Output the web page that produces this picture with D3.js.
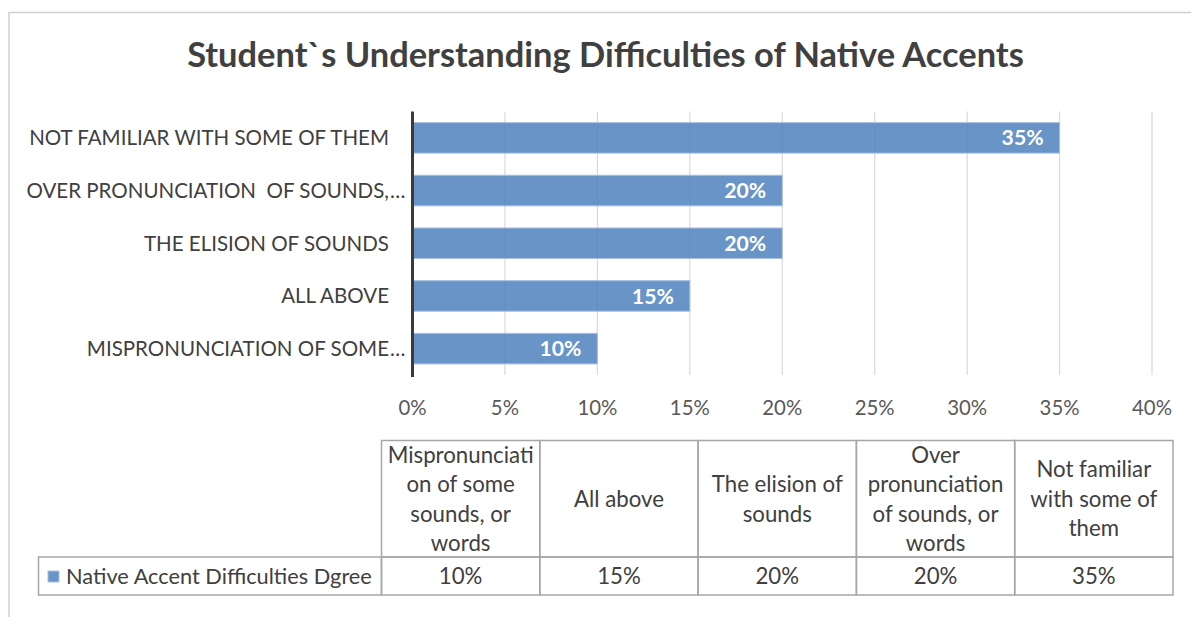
<!DOCTYPE html>
<html>
<head>
<meta charset="utf-8">
<script src="https://cdn.jsdelivr.net/npm/d3@7"></script>
<style>
  html, body { margin: 0; padding: 0; background: #fff; }
  svg { display: block; }
  text { font-family: Lato, "Open Sans", sans-serif; }
</style>
</head>
<body>
<svg id="chart" width="1191" height="617"></svg>
<script>
// Survey categories, listed bottom-to-top on the bar axis (left-to-right in the data table)
const categories = [
  "Mispronunciation of some sounds, or words",
  "All above",
  "The elision of sounds",
  "Over pronunciation of sounds, or words",
  "Not familiar with some of them"
];
// Category axis labels as they appear beside the bars
const axisLabels = [
  "MISPRONUNCIATION OF SOME…",
  "ALL ABOVE",
  "THE ELISION OF SOUNDS",
  "OVER PRONUNCIATION  OF SOUNDS,…",
  "NOT FAMILIAR WITH SOME OF THEM"
];
// Wrapped header text for the data table
const tableHeaders = [
  ["Mispronunciati", "on of some", "sounds, or", "words"],
  ["All above"],
  ["The elision of", "sounds"],
  ["Over", "pronunciation", "of sounds, or", "words"],
  ["Not familiar", "with some of", "them"]
];
// Share of students (percent)
const values = [10, 15, 20, 20, 35];
const seriesName = "Native Accent Difficulties Dgree";
const titleText = "Student`s Understanding Difficulties of Native Accents";
const xTicks = [0, 5, 10, 15, 20, 25, 30, 35, 40];

const svg = d3.select("#chart");
const barColor = "#4f81bd";
const textColor = "#404040";

// Pick a font size so that a sample string spans the given width
function fitSize(str, weight, target) {
  const t = svg.append("text").attr("font-size", 100).attr("font-weight", weight).text(str);
  const w = t.node().getComputedTextLength();
  t.remove();
  return 100 * target / w;
}

// Outer chart frame
svg.append("rect")
  .attr("x", 9).attr("y", 12.5)
  .attr("width", 1400).attr("height", 800)
  .attr("fill", "none").attr("stroke", "#d0d0d0").attr("stroke-width", 1.5);

// Title
svg.append("text")
  .attr("x", 605.5).attr("y", 67)
  .attr("text-anchor", "middle")
  .attr("font-weight", 700)
  .attr("font-size", fitSize(titleText, 700, 837))
  .attr("fill", textColor)
  .text(titleText);

// Scales
const plot = { left: 412.5, right: 1152, top: 111.5, bottom: 375 };
const x = d3.scaleLinear().domain([0, 40]).range([plot.left, plot.right]);
const y = d3.scaleBand()
  .domain(categories.slice().reverse())
  .range([plot.top, plot.bottom])
  .paddingInner(0.42).paddingOuter(0.21);

const labelSize = fitSize("NOT FAMILIAR WITH SOME OF THEM", 400, 360);

// Vertical gridlines
svg.append("g")
  .selectAll("line")
  .data(xTicks.filter(d => d > 0))
  .join("line")
  .attr("x1", d => x(d)).attr("x2", d => x(d))
  .attr("y1", plot.top).attr("y2", plot.bottom)
  .attr("stroke", "#d9d9d9").attr("stroke-width", 1.2);

// Bars
svg.append("g")
  .selectAll("rect")
  .data(categories)
  .join("rect")
  .attr("x", x(0))
  .attr("y", d => y(d))
  .attr("width", (d, i) => x(values[i]) - x(0))
  .attr("height", y.bandwidth())
  .attr("fill", barColor)
  .attr("fill-opacity", 0.85)
  .attr("stroke", "#a9c1e0")
  .attr("stroke-width", 1);

// Value labels inside the bar ends
const valueSize = fitSize("35%", 700, 42);
svg.append("g")
  .selectAll("text")
  .data(categories)
  .join("text")
  .attr("x", (d, i) => x(values[i]) - 16)
  .attr("y", d => y(d) + y.bandwidth() / 2)
  .attr("dy", "0.36em")
  .attr("text-anchor", "end")
  .attr("font-weight", 700)
  .attr("font-size", valueSize)
  .attr("fill", "#fff")
  .text((d, i) => values[i] + "%");

// Category axis line
svg.append("line")
  .attr("x1", plot.left).attr("x2", plot.left)
  .attr("y1", plot.top).attr("y2", plot.bottom + 2)
  .attr("stroke", "#3a3a3a").attr("stroke-width", 3);

// Category labels (ellipsis hangs past the right edge)
const catG = svg.append("g");
categories.forEach((c, i) => {
  const lab = axisLabels[i];
  const cy = y(c) + y.bandwidth() / 2;
  const trunc = lab.endsWith("…");
  const base = trunc ? lab.slice(0, -1) : lab;
  catG.append("text")
    .attr("x", 389).attr("y", cy).attr("dy", "0.36em")
    .attr("text-anchor", "end")
    .attr("font-size", labelSize)
    .attr("fill", textColor)
    .style("white-space", "pre")
    .attr("xml:space", "preserve")
    .text(base);
  if (trunc) {
    catG.append("text")
      .attr("x", 390).attr("y", cy).attr("dy", "0.36em")
      .attr("font-size", labelSize)
      .attr("fill", textColor)
      .text("…");
  }
});

// Value axis tick labels
const tickSize = fitSize("40%", 400, 40);
svg.append("g")
  .selectAll("text")
  .data(xTicks)
  .join("text")
  .attr("x", d => x(d))
  .attr("y", 408).attr("dy", "0.36em")
  .attr("text-anchor", "middle")
  .attr("font-size", tickSize)
  .attr("fill", "#595959")
  .text(d => d + "%");

// Data table under the chart
const table = { left: 381.5, right: 1173, top: 440.5, mid: 557, bottom: 595, legendLeft: 38.5 };
const col = d3.scaleBand().domain(categories).range([table.left, table.right]);
const gridStroke = "#a6a6a6";
const tg = svg.append("g");

// Header cells
tg.selectAll("rect.head")
  .data(categories)
  .join("rect")
  .attr("class", "head")
  .attr("x", d => col(d)).attr("y", table.top)
  .attr("width", col.bandwidth()).attr("height", table.mid - table.top)
  .attr("fill", "none").attr("stroke", gridStroke).attr("stroke-width", 1.5);

// Value cells
tg.selectAll("rect.val")
  .data(categories)
  .join("rect")
  .attr("class", "val")
  .attr("x", d => col(d)).attr("y", table.mid)
  .attr("width", col.bandwidth()).attr("height", table.bottom - table.mid)
  .attr("fill", "none").attr("stroke", gridStroke).attr("stroke-width", 1.5);

// Legend cell
tg.append("rect")
  .attr("x", table.legendLeft).attr("y", table.mid)
  .attr("width", table.left - table.legendLeft).attr("height", table.bottom - table.mid)
  .attr("fill", "none").attr("stroke", gridStroke).attr("stroke-width", 1.5);

const tableSize = fitSize("Mispronunciati", 400, 146);
const lineH = 29.5;
const headMid = (table.top + table.mid) / 2;
categories.forEach((c, i) => {
  const lines = tableHeaders[i];
  const t = tg.append("text")
    .attr("text-anchor", "middle")
    .attr("font-size", tableSize)
    .attr("fill", textColor);
  lines.forEach((ln, j) => {
    t.append("tspan")
      .attr("x", col(c) + col.bandwidth() / 2)
      .attr("y", headMid + (j - (lines.length - 1) / 2) * lineH)
      .attr("dy", "0.36em")
      .text(ln);
  });
  tg.append("text")
    .attr("x", col(c) + col.bandwidth() / 2)
    .attr("y", (table.mid + table.bottom) / 2).attr("dy", "0.36em")
    .attr("text-anchor", "middle")
    .attr("font-size", tableSize)
    .attr("fill", textColor)
    .text(values[i] + "%");
});

// Legend key and series name
tg.append("rect")
  .attr("x", 48).attr("y", 571)
  .attr("width", 11).attr("height", 11)
  .attr("fill", barColor).attr("fill-opacity", 0.85)
  .attr("stroke", "#a9c1e0").attr("stroke-width", 1);
tg.append("text")
  .attr("x", 66).attr("y", (table.mid + table.bottom) / 2).attr("dy", "0.36em")
  .attr("font-size", fitSize(seriesName, 400, 306))
  .attr("fill", textColor)
  .text(seriesName);
</script>
</body>
</html>
